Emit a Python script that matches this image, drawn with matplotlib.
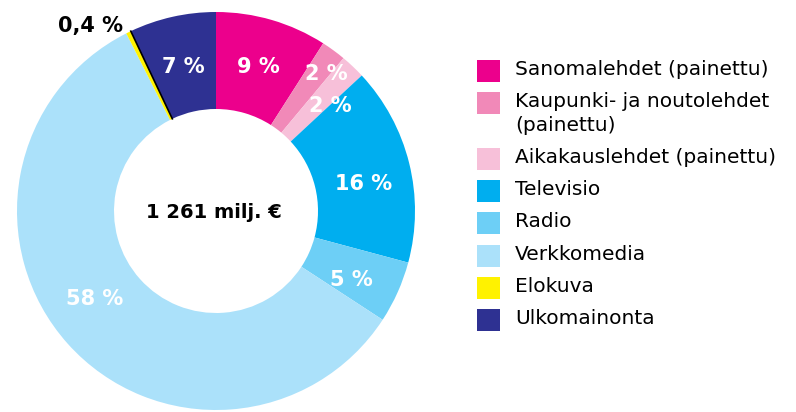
import numpy as np
import matplotlib.pyplot as plt
from matplotlib.patches import Rectangle

# data
kategoriat = ["Sanomalehdet (painettu)", "Kaupunki- ja noutolehdet\n(painettu)",
              "Aikakauslehdet (painettu)", "Televisio", "Radio", "Verkkomedia",
              "Elokuva", "Ulkomainonta"]
osuudet = [9, 2, 2, 16, 5, 58, 0.4, 7]
osuus_tekstit = ["9 %", "2 %", "2 %", "16 %", "5 %", "58 %", "0,4 %", "7 %"]
varit = ["#EC008C", "#F189B8", "#F7C0D9", "#00AEEF", "#6DCFF6", "#ABE1FA",
         "#FFF200", "#2E3192"]
yhteensa = "1 261 milj. €"

plt.rcParams['font.family'] = ['DejaVu Sans']

fig = plt.figure(figsize=(7.96, 4.12), dpi=100)
ax = fig.add_axes([0, 0, 1, 1])

cx, cy, R = 216, 201, 199
wedges, _ = ax.pie(osuudet, colors=varit, startangle=90, counterclock=False,
                   radius=R, center=(cx, cy), frame=True,
                   wedgeprops=dict(width=97, linewidth=0))
ax.set_xlim(0, 796)
ax.set_ylim(0, 412)
ax.set_aspect("equal")
ax.axis("off")

# thin black edge on the small Elokuva slice
w = wedges[6]
a = np.deg2rad(w.theta1)
ax.plot([cx + (R - 97) * np.cos(a), cx + R * np.cos(a)],
        [cy + (R - 97) * np.sin(a), cy + R * np.sin(a)], color="black", lw=1.2)

# percent labels
r_lab = [150, 176, 155, 150, 152, 150, 0, 148]
d_ang = [0, -2.5, -4, -3.5, -3, -6, 0, 0]
for i, (w, t) in enumerate(zip(wedges, osuus_tekstit)):
    mid = (w.theta1 + w.theta2) / 2 + d_ang[i]
    if i == 6:
        ax.text(cx + 208 * np.cos(np.deg2rad(mid)) - 2, cy + 208 * np.sin(np.deg2rad(mid)) - 2,
                t, ha="right", va="center", fontsize=15, fontweight="bold", color="black")
        continue
    x = cx + r_lab[i] * np.cos(np.deg2rad(mid))
    y = cy + r_lab[i] * np.sin(np.deg2rad(mid))
    ax.text(x, y, t, ha="center", va="center", fontsize=15, fontweight="bold", color="white")

ax.text(cx - 2, cy - 1, yhteensa, ha="center", va="center", fontsize=14, fontweight="bold",
        color="black")

# legend
y = 412 - 71
for lab, c in zip(kategoriat, varit):
    ax.add_patch(Rectangle((477, y - 11), 23, 22, color=c, lw=0))
    ax.text(515, y + 11, lab, ha="left", va="top", fontsize=14.5, color="black",
            linespacing=1.3)
    y -= 32.3 + 23 * lab.count("\n")

fig.savefig("out.png", dpi=100)
